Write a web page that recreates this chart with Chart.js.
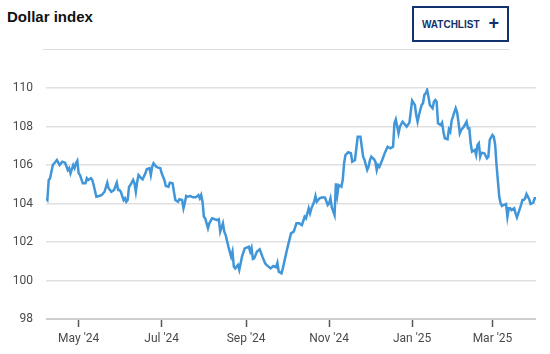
<!DOCTYPE html>
<html>
<head>
<meta charset="utf-8">
<script src="https://cdn.jsdelivr.net/npm/chart.js@4"></script>
<style>
  html, body { margin: 0; padding: 0; background: #fff; }
  body { width: 550px; height: 354px; position: relative; overflow: hidden; font-family: "Liberation Sans", Arial, sans-serif; }
  #title { position: absolute; left: 7px; top: 8px; font-size: 15px; font-weight: bold; color: #111; }
  #watch { position: absolute; left: 412px; top: 6px; width: 93px; height: 32px; border: 2px solid #12326b;
           color: #12326b; font-size: 10px; font-weight: bold; display: flex; align-items: center; justify-content: center; box-sizing: content-box; }
  #watch span.plus { font-size: 18px; font-weight: bold; margin-left: 9px; line-height: 10px; position: relative; top: -1px; }
  #sep { position: absolute; left: 43px; top: 49px; width: 466px; height: 1px; background: #dcdcdc; }
  #wrap { position: absolute; left: 0; top: 0; width: 550px; height: 354px; }
</style>
</head>
<body>
<div id="title">Dollar index</div>
<div id="watch">WATCHLIST<span class="plus">+</span></div>
<div id="sep"></div>
<div id="wrap"><canvas id="chart"></canvas></div>
<script>
// days counted from this date
const startDate = '2024-04-07';

const tickDates = ['2024-05-01', '2024-07-01', '2024-09-01', '2024-11-01', '2025-01-01', '2025-03-01'];
const tickLabels = ["May '24", "Jul '24", "Sep '24", "Nov '24", "Jan '25", "Mar '25"];

const dayOffsets = [
  0, 1, 2, 3, 5, 7, 8, 10, 12, 14, 16, 17, 18, 20, 21, 22, 23, 24, 25, 27,
  29, 30, 31, 33, 34, 35, 37, 39, 41, 43, 45, 46, 47, 48, 50, 52, 53, 54, 55, 57,
  58, 59, 60, 61, 62, 64, 65, 66, 67, 68, 70, 71, 73, 74, 76, 77, 78, 79, 81, 82,
  84, 85, 87, 88, 90, 91, 93, 94, 95, 97, 98, 100, 101, 102, 103, 104, 106, 108, 110, 112,
  113, 114, 115, 116, 117, 119, 120, 122, 124, 126, 127, 128, 130, 131, 132, 134, 136, 137, 138, 139,
  141, 142, 144, 146, 149, 150, 151, 152, 153, 155, 157, 159, 161, 162, 165, 167, 169, 170, 171, 173,
  174, 177, 180, 182, 184, 186, 188, 190, 191, 193, 194, 195, 197, 198, 199, 201, 203, 205, 207, 208,
  209, 210, 212, 213, 214, 215, 217, 218, 219, 220, 222, 224, 225, 227, 228, 229, 231, 232, 233, 234,
  236, 237, 238, 239, 241, 242, 243, 244, 245, 247, 249, 251, 253, 255, 256, 257, 259, 260, 262, 263,
  265, 267, 268, 269, 271, 272, 273, 274, 276, 277, 278, 279, 280, 281, 282, 284, 285, 286, 287, 288,
  290, 291, 292, 293, 295, 296, 297, 298, 299, 301, 302, 303, 304, 305, 307, 309, 310, 311, 312, 313,
  315, 316, 317, 318, 319, 320, 322, 324, 325, 326, 328, 329, 330, 331, 333, 334, 335, 336, 338, 339,
  340, 341, 342, 344, 345, 346, 347, 349, 350, 351, 352, 353, 355, 356, 358, 359, 360
];

const indexValues = [
  104.27, 104.18, 105.22, 105.31, 106.00, 106.17, 106.26, 106.00, 106.17, 106.12, 105.74, 105.84, 105.57, 106.00, 105.84, 106.09, 106.22, 105.57, 105.48, 105.05,
  105.05, 105.31, 105.22, 105.31, 105.22, 104.96, 104.35, 104.39, 104.44, 104.61, 105.08, 104.79, 104.70, 104.61, 104.70, 105.08, 104.70, 104.70, 104.61, 104.18,
  104.27, 104.09, 104.18, 104.87, 104.96, 105.22, 105.05, 104.61, 105.13, 105.48, 105.31, 105.26, 105.57, 105.78, 105.83, 105.48, 105.91, 106.09, 105.91, 105.88,
  105.83, 105.57, 105.22, 104.91, 104.87, 105.08, 105.05, 104.61, 104.18, 104.09, 104.22, 104.18, 103.75, 104.04, 104.39, 104.35, 104.39, 104.32, 104.32, 104.44,
  104.27, 104.44, 104.09, 103.31, 103.23, 102.71, 102.97, 103.23, 103.18, 103.14, 103.18, 102.54, 102.97, 102.54, 102.36, 101.76, 101.24, 101.50, 100.72, 100.63,
  100.81, 100.55, 101.24, 101.67, 101.76, 101.50, 101.70, 101.12, 101.15, 101.50, 101.62, 101.24, 100.89, 100.81, 100.63, 100.75, 100.69, 100.92, 100.46, 100.37,
  100.63, 101.58, 102.45, 102.54, 102.97, 102.97, 102.88, 103.31, 103.23, 103.75, 103.49, 103.75, 104.09, 104.39, 104.09, 104.27, 104.32, 104.30, 103.92, 104.01,
  104.27, 103.80, 103.40, 105.05, 104.44, 104.96, 104.87, 105.22, 106.09, 106.52, 106.66, 106.61, 106.17, 106.26, 106.87, 107.47, 107.47, 106.95, 106.43, 106.26,
  105.74, 105.91, 106.26, 106.43, 106.30, 106.17, 105.74, 106.00, 105.91, 106.26, 106.64, 106.95, 106.87, 106.95, 108.17, 108.37, 107.65, 107.99, 108.25, 108.17,
  107.99, 108.20, 108.77, 109.34, 109.12, 108.60, 108.25, 108.60, 109.12, 109.21, 109.64, 109.72, 109.90, 109.55, 109.12, 108.95, 109.29, 109.38, 109.29, 108.17,
  108.08, 108.20, 107.73, 107.39, 107.34, 107.85, 107.73, 108.30, 108.51, 108.95, 108.75, 108.25, 107.65, 107.82, 107.99, 108.25, 107.91, 107.91, 107.13, 106.69,
  106.78, 106.52, 107.04, 107.13, 106.43, 106.64, 106.61, 106.35, 106.43, 107.30, 107.56, 107.47, 107.04, 106.00, 104.35, 104.01, 103.87, 103.92, 103.97, 103.31,
  103.75, 103.75, 103.66, 103.75, 103.49, 103.28, 103.49, 103.92, 104.18, 104.18, 104.27, 104.49, 104.22, 103.97, 104.04, 104.27, 104.27
];

const dayMs = 86400000;
const toDay = s => Math.round((Date.parse(s) - Date.parse(startDate)) / dayMs);
const tickDays = tickDates.map(toDay);

const points = dayOffsets.map((d, i) => ({ x: d, y: indexValues[i] }));

new Chart(document.getElementById('chart'), {
  type: 'line',
  data: {
    datasets: [{
      data: points,
      borderColor: '#4096d8',
      borderWidth: 2.5,
      pointRadius: 0,
      tension: 0,
      fill: false
    }]
  },
  options: {
    responsive: true,
    maintainAspectRatio: false,
    animation: false,
    layout: { padding: { top: 88, right: 14, left: 0, bottom: 0 } },
    plugins: { legend: { display: false }, tooltip: { enabled: false } },
    scales: {
      x: {
        type: 'linear',
        min: dayOffsets[0],
        max: dayOffsets[dayOffsets.length - 1],
        afterBuildTicks: scale => { scale.ticks = tickDays.map(v => ({ value: v })); },
        afterFit: scale => { scale.height = 35; },
        grid: { drawOnChartArea: false, drawTicks: true, tickLength: 8, tickColor: '#555', tickWidth: 1.5 },
        border: { display: false },
        ticks: {
          autoSkip: false,
          maxRotation: 0,
          padding: 5,
          color: '#4a4a4a',
          font: { family: 'Roboto', size: 12 },
          callback: v => { const i = tickDays.indexOf(v); return i >= 0 ? tickLabels[i] : ''; }
        }
      },
      y: {
        min: 98,
        max: 110,
        afterFit: scale => { scale.width = 46; },
        grid: { drawTicks: false, color: ctx => ctx.tick && ctx.tick.value === 98 ? '#cfcfcf' : '#e0e0e0', lineWidth: ctx => ctx.tick && ctx.tick.value === 98 ? 2 : 1.5 },
        border: { display: false },
        ticks: {
          stepSize: 2,
          padding: 13,
          color: '#4a4a4a',
          font: { family: 'Roboto', size: 12 }
        }
      }
    }
  }
});
</script>
</body>
</html>
